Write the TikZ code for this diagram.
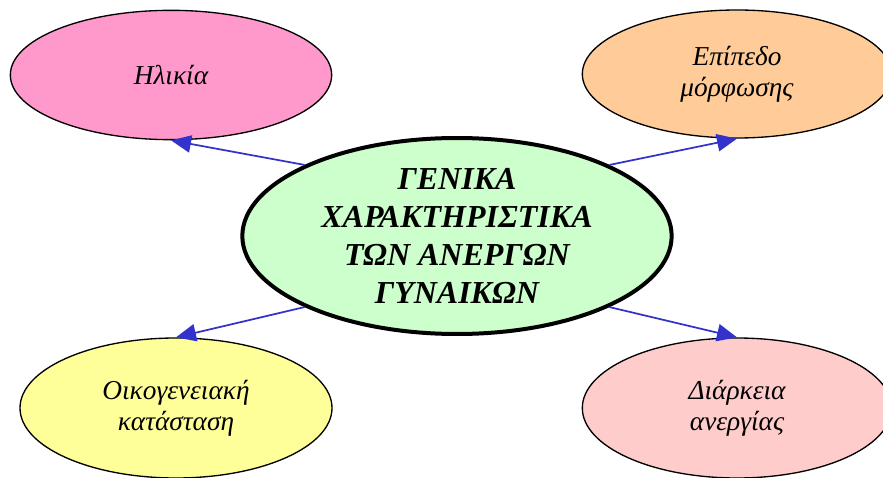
\documentclass[tikz,border=0pt]{standalone}
\usepackage{fontspec}
\setmainfont{Liberation Serif}
\usetikzlibrary{shapes.geometric}
\usetikzlibrary{positioning, arrows.meta}

\definecolor{pinkfill}{HTML}{FF99CC}
\definecolor{orangefill}{HTML}{FFCC99}
\definecolor{greenfill}{HTML}{CCFFCC}
\definecolor{yellowfill}{HTML}{FFFF99}
\definecolor{rosefill}{HTML}{FFCCCC}
\definecolor{arrowblue}{HTML}{3333CC}

\tikzset{
    topic/.style={ellipse, draw=black, line width=1pt, inner sep=0pt, align=center,
        font=\fontsize{20.5}{23.5}\selectfont\itshape},
    main/.style={ellipse, draw=black, line width=3pt, fill=greenfill, inner sep=-16pt, align=center,
        font=\fontsize{24}{28.7}\selectfont\bfseries\itshape},
    link/.style={draw=arrowblue, line width=1.3pt, -{Triangle[length=15pt,width=13pt]}}
}

\begin{document}
\begin{tikzpicture}[x=0.75pt, y=-0.75pt]
    \useasboundingbox (0,0) rectangle (883,478);

    % central topic
    \node[main, minimum width=322pt, minimum height=147pt] (genika) at (457,236)
        {ΓΕΝΙΚΑ\\ΧΑΡΑΚΤΗΡΙΣΤΙΚΑ\\ΤΩΝ ΑΝΕΡΓΩΝ\\ΓΥΝΑΙΚΩΝ};

    % surrounding topics
    \node[topic, fill=pinkfill, minimum width=241pt, minimum height=97pt] (ilikia) at (171,75) {Ηλικία};
    \node[topic, fill=orangefill, minimum width=232pt, minimum height=96pt] (epipedo) at (737,74) {Επίπεδο\\μόρφωσης};
    \node[topic, fill=yellowfill, minimum width=234pt, minimum height=105pt] (oikogeneiaki) at (176,408) {Οικογενειακή\\κατάσταση};
    \node[topic, fill=rosefill, minimum width=232pt, minimum height=105pt] (diarkeia) at (737,408) {Διάρκεια\\ανεργίας};

    % connectors
    \draw[link] (genika.155) -- (ilikia.south);
    \draw[link] (genika.25) -- (epipedo.south);
    \draw[link] (genika.205) -- (oikogeneiaki.north);
    \draw[link] (genika.335) -- (diarkeia.north);
\end{tikzpicture}
\end{document}
